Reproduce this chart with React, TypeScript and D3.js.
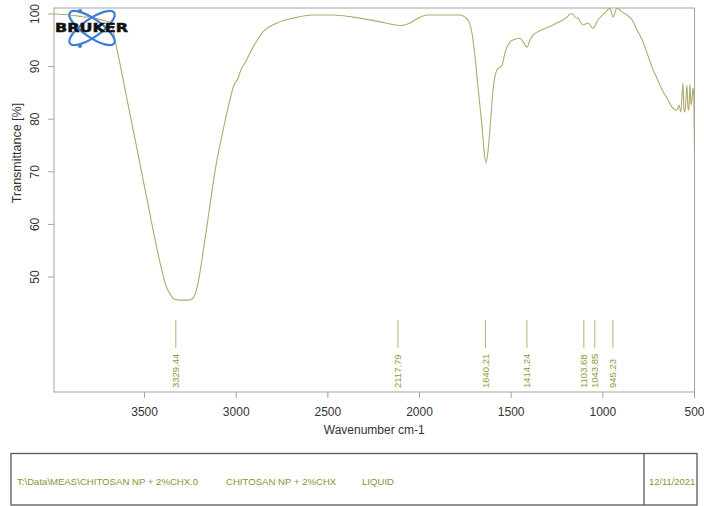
import React from "react";
import * as d3 from "d3";

// FTIR spectrum: wavenumber (cm-1) and transmittance (%)
const wavenumbers = [
  3994, 3906, 3860, 3825, 3800, 3770, 3715, 3688, 3672, 3661, 3650, 3634, 3597, 3542, 3488, 3433,
  3404, 3383, 3361, 3339, 3306, 3263, 3241, 3224, 3208, 3175, 3143, 3110, 3077, 3045, 3012,
  2990, 2974, 2952, 2908, 2854, 2777, 2690, 2581, 2472, 2363, 2215, 2161, 2106, 2052, 1997,
  1959, 1863, 1779, 1752, 1730, 1714, 1697, 1681, 1659, 1648, 1637, 1626, 1615, 1599, 1577,
  1550, 1534, 1506, 1479, 1452, 1435, 1414, 1397, 1381, 1332, 1272, 1217, 1195, 1179, 1163,
  1152, 1135, 1108, 1081, 1054, 1026, 988, 961, 945, 923, 895, 868, 841, 814, 786, 759, 732,
  705, 677, 650, 623, 596, 585, 574, 563, 557, 552, 541, 535, 530, 525, 519, 514, 508, 503, 500,
];
const transmittance = [
  100.0, 99.8, 99.6, 99.4, 99.5, 99.2, 98.7, 98.3, 97.0, 95.1, 93.2, 90.5, 84.0, 74.5, 65.0, 55.5,
  51.0, 48.3, 46.8, 45.8, 45.6, 45.6, 45.8, 46.8, 48.9, 56.1, 63.7, 71.3, 77.0, 82.1, 86.5,
  87.8, 89.4, 90.7, 93.7, 96.6, 98.3, 99.2, 99.8, 99.8, 99.4, 98.5, 98.1, 97.8, 98.3, 99.4,
  99.8, 99.8, 99.8, 99.4, 98.5, 96.4, 91.8, 86.1, 78.5, 74.1, 71.7, 74.1, 78.5, 85.6, 89.4,
  90.3, 92.6, 94.7, 95.2, 95.4, 94.7, 93.7, 95.1, 96.0, 97.0, 97.9, 98.9, 99.4, 100.0, 100.0,
  99.4, 99.2, 97.9, 98.3, 97.3, 98.9, 100.2, 101.1, 99.4, 101.1, 100.4, 99.8, 98.9, 97.0, 95.1,
  92.6, 89.9, 87.8, 85.6, 84.0, 82.3, 81.7, 82.7, 81.4, 86.9, 81.7, 81.4, 86.5, 81.7, 82.1, 86.7,
  82.7, 83.6, 85.9, 83.6, 73.2,
];

// Picked peak positions (cm-1)
const peaks = [3329.44, 2117.79, 1640.21, 1414.24, 1103.68, 1043.85, 945.23];

const xTicks = [3500, 3000, 2500, 2000, 1500, 1000, 500];
const yTicks = [50, 60, 70, 80, 90, 100];

const infoFields = [
  { text: "T:\\Data\\MEAS\\CHITOSAN NP + 2%CHX.0", x: 17 },
  { text: "CHITOSAN NP + 2%CHX", x: 226 },
  { text: "LIQUID", x: 362 },
];
const measuredOn = "12/11/2021";

const W = 704;
const H = 506;
const plot = { left: 54, top: 8, right: 694.5, bottom: 392 };

const axisColor = "#a3a3a3";
const textColor = "#333";
const specColor = "#b0aa6c";
const peakColor = "#b5b56e";
const peakText = "#8e993c";
const infoColor = "#8f9036";
const font = "'Liberation Sans', Arial, Helvetica, sans-serif";

export default function App() {
  const x = d3.scaleLinear().domain([3994, 500]).range([plot.left, plot.right]);
  const y = d3.scaleLinear().domain([28.14, 101.14]).range([plot.bottom, plot.top]);

  const points: [number, number][] = wavenumbers.map((w, i) => [w, transmittance[i]]);
  const line = d3
    .line<[number, number]>()
    .x((d) => x(d[0]))
    .y((d) => y(d[1]))
    .curve(d3.curveMonotoneX);
  const path = line(points.slice().reverse()) || "";

  return (
    <svg
      width={W}
      height={H}
      viewBox={`0 0 ${W} ${H}`}
      style={{ position: "absolute", left: 0, top: 0, background: "#fff" }}
      fontFamily={font}
    >
      <defs>
        <clipPath id="plotClip">
          <rect x={plot.left} y={plot.top} width={plot.right - plot.left} height={plot.bottom - plot.top} />
        </clipPath>
      </defs>

      {/* frame */}
      <rect
        x={plot.left}
        y={plot.top}
        width={plot.right - plot.left}
        height={plot.bottom - plot.top}
        fill="none"
        stroke={axisColor}
        strokeWidth={1}
      />

      {/* spectrum */}
      <path d={path} fill="none" stroke={specColor} strokeWidth={1.1} clipPath="url(#plotClip)" />

      {/* peak markers */}
      {peaks.map((p) => (
        <g key={p}>
          <line x1={x(p)} x2={x(p)} y1={320} y2={348} stroke={peakColor} strokeWidth={1} />
          <text
            transform={`translate(${x(p)},388) rotate(-90)`}
            dy="0.35em"
            fontSize={9.5}
            fill={peakText}
          >
            {p.toFixed(2)}
          </text>
        </g>
      ))}

      {/* x axis */}
      {xTicks.map((t) => (
        <g key={t}>
          <line x1={x(t)} x2={x(t)} y1={plot.bottom} y2={plot.bottom + 6} stroke={axisColor} />
          <text x={x(t)} y={416} textAnchor="middle" fontSize={12} fill={textColor}>
            {t}
          </text>
        </g>
      ))}
      <text x={(plot.left + plot.right) / 2} y={434} textAnchor="middle" fontSize={12} fill={textColor}>
        Wavenumber cm-1
      </text>

      {/* y axis */}
      {yTicks.map((t) => (
        <g key={t}>
          <line x1={plot.left - 6} x2={plot.left} y1={y(t)} y2={y(t)} stroke={axisColor} />
          <text
            transform={`translate(35,${y(t)}) rotate(-90)`}
            textAnchor="middle"
            dy="0.35em"
            fontSize={12}
            fill={textColor}
          >
            {t}
          </text>
        </g>
      ))}
      <text
        transform={`translate(17,153) rotate(-90)`}
        textAnchor="middle"
        dy="0.35em"
        fontSize={12.5}
        fill={textColor}
      >
        Transmittance [%]
      </text>

      {/* logo */}
      <g>
        <ellipse cx={92} cy={28} rx={27} ry={9} transform="rotate(35 92 28)" fill="none" stroke="#3d7fd8" strokeWidth={2.2} />
        <ellipse cx={92} cy={28} rx={27} ry={9} transform="rotate(-35 92 28)" fill="none" stroke="#3d7fd8" strokeWidth={2.2} />
        <circle cx={80} cy={11} r={2} fill="#3d7fd8" />
        <circle cx={80} cy={46} r={2} fill="#3d7fd8" />
        <text
          x={55}
          y={32.3}
          fontSize={11.5}
          fontWeight="bold"
          fontFamily="'DejaVu Sans', sans-serif"
          fill="#111"
          stroke="#111"
          strokeWidth={0.5}
          textLength={73}
          lengthAdjust="spacingAndGlyphs"
        >
          BRUKER
        </text>
      </g>

      {/* info box */}
      <rect x={11} y={453.5} width={686} height={51.5} fill="none" stroke="#5a5a5a" strokeWidth={1.3} />
      <line x1={644} x2={644} y1={453.5} y2={505} stroke="#5a5a5a" strokeWidth={1.3} />
      {infoFields.map((f) => (
        <text key={f.text} x={f.x} y={485} fontSize={9.6} fill={infoColor}>
          {f.text}
        </text>
      ))}
      <text x={649} y={485} fontSize={9.4} fill={infoColor}>
        {measuredOn}
      </text>
    </svg>
  );
}
